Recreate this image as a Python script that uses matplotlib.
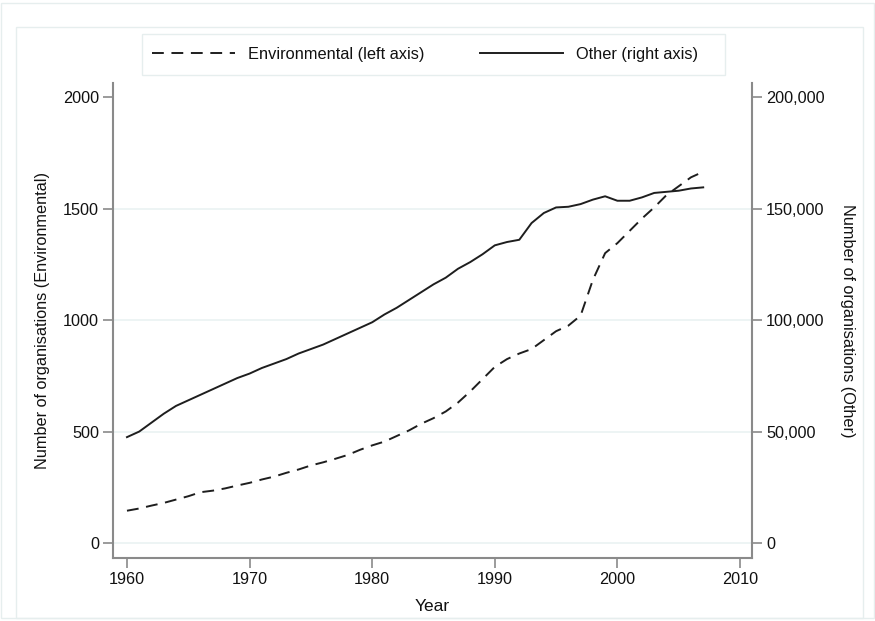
import matplotlib
matplotlib.use("Agg")
import matplotlib.pyplot as plt
from matplotlib.patches import Rectangle
from matplotlib.lines import Line2D
from matplotlib.ticker import FuncFormatter

plt.rcParams['font.family'] = ['Liberation Sans', 'DejaVu Sans']
plt.rcParams['lines.scale_dashes'] = False

years = list(range(1960, 2008))
environmental = [145, 155, 168, 180, 195, 210, 228, 235, 245, 258,
                 270, 285, 298, 315, 330, 348, 362, 378, 395, 418,
                 438, 455, 480, 505, 535, 560, 590, 630, 680, 735,
                 790, 825, 850, 870, 910, 950, 975, 1020, 1180, 1300,
                 1345, 1400, 1455, 1505, 1560, 1600, 1640, 1665]
other = [47500, 50000, 54000, 58000, 61500, 64000, 66500, 69000, 71500, 74000,
         76000, 78500, 80500, 82500, 85000, 87000, 89000, 91500, 94000, 96500,
         99000, 102500, 105500, 109000, 112500, 116000, 119000, 123000, 126000, 129500,
         133500, 135000, 136000, 143500, 148000, 150500, 150800, 152000, 154000, 155500,
         153500, 153500, 155000, 157000, 157500, 158000, 159000, 159500]

x_ticks = [1960, 1970, 1980, 1990, 2000, 2010]
left_ticks = [0, 500, 1000, 1500, 2000]
right_ticks = [0, 50000, 100000, 150000, 200000]
grid_levels = [0, 500, 1000, 1500]
legend_labels = ['Environmental (left axis)', 'Other (right axis)']

W, H = 875, 621
fig = plt.figure(figsize=(W / 100, H / 100), dpi=100)
fig.patch.set_facecolor('white')

# graph region borders
border_col = '#e6eeee'
fig.patches.append(Rectangle((1 / W, 1 - 618 / H), 873 / W, 615 / H, transform=fig.transFigure,
                             fill=False, edgecolor=border_col, lw=1.0))
fig.patches.append(Rectangle((16 / W, 1 - 618 / H), (863 - 16) / W, (618 - 27) / H,
                             transform=fig.transFigure, fill=False, edgecolor=border_col, lw=1.0))
# legend frame
fig.patches.append(Rectangle((142 / W, 1 - 75 / H), (725 - 142) / W, (75 - 34) / H,
                             transform=fig.transFigure, fill=False, edgecolor=border_col, lw=1.0))

L, R, T, B = 113, 752, 83, 558
ax = fig.add_axes([L / W, 1 - B / H, (R - L) / W, (B - T) / H])
ax2 = ax.twinx()

axis_col = '#8a8a8a'
line_col = '#1e1e1e'

ax.set_xlim(1958.86, 2010.98)
ax.set_ylim(-67, 2063)
ax2.set_ylim(-6700, 206300)

ax.hlines(grid_levels, 1958.86, 2010.98, colors='#eaf2f2', lw=1.2, zorder=0)

ax.plot(years, environmental, color=line_col, lw=1.4, dashes=(8.5, 5.5))
ax2.plot(years, other, color=line_col, lw=1.4)

for a in (ax, ax2):
    a.spines['top'].set_visible(False)
    for s in ('left', 'right', 'bottom'):
        a.spines[s].set_color(axis_col)
        a.spines[s].set_linewidth(1.5)
    a.tick_params(colors=axis_col, width=1.2, length=7, labelsize=11.7,
                  labelcolor='#111111', pad=3)
ax.spines['right'].set_visible(False)
ax2.spines['left'].set_visible(False)
ax2.spines['bottom'].set_visible(False)

ax.set_xticks(x_ticks)
ax.set_yticks(left_ticks)
ax2.set_yticks(right_ticks)
ax2.yaxis.set_major_formatter(FuncFormatter(lambda v, p: f"{int(v):,}"))

ax.set_xlabel('Year', fontsize=12.5, color='#111111', labelpad=9)
ax.set_ylabel('Number of organisations (Environmental)', fontsize=11.7, color='#111111', labelpad=9)
ax2.set_ylabel('Number of organisations (Other)', fontsize=11.7, color='#111111',
               rotation=270, labelpad=22)

handles = [Line2D([], [], color=line_col, lw=1.4, dashes=(8.5, 5.5)),
           Line2D([], [], color=line_col, lw=1.4)]
leg = fig.legend(handles, legend_labels,
                 loc='center left', bbox_to_anchor=(152 / W, 1 - 54.5 / H), ncol=2,
                 fontsize=11.8, handlelength=5.05, handletextpad=0.8, columnspacing=3.4,
                 frameon=False, borderpad=0, borderaxespad=0)
for t in leg.get_texts():
    t.set_color('#111111')

fig.savefig('out.png', dpi=100, facecolor='white')
